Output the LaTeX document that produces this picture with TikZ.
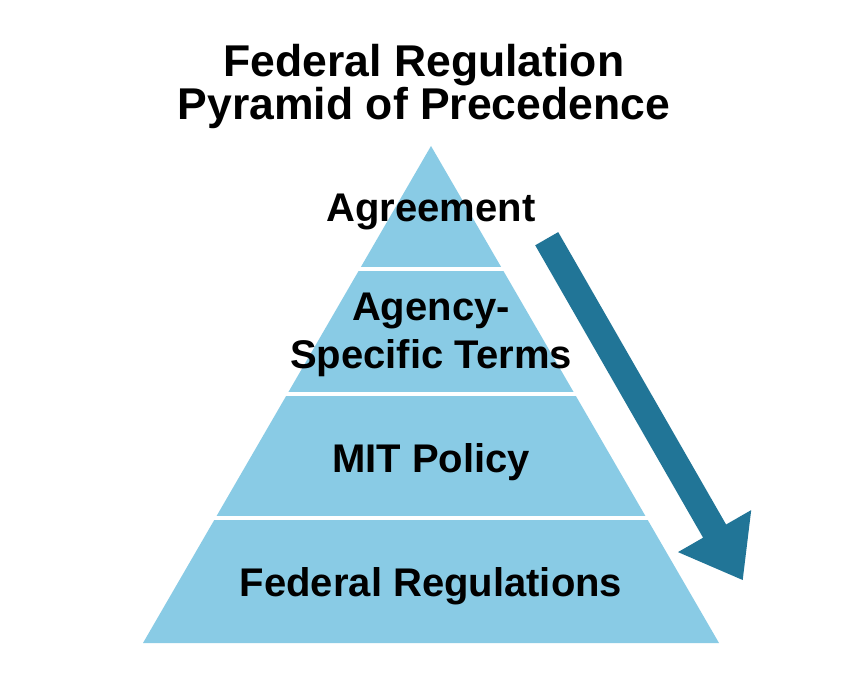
\documentclass[tikz,border=0pt]{standalone}
\usepackage{fontspec}
\setmainfont{Liberation Sans}
\definecolor{pyrblue}{RGB}{137,203,229}
\definecolor{arrowteal}{RGB}{33,117,151}
\begin{document}
\begin{tikzpicture}[x=1pt,y=-1pt,
  titletext/.style={font=\bfseries\fontsize{44.5}{39}\selectfont,align=center,inner sep=0pt,anchor=north},
  leveltext/.style={font=\bfseries\fontsize{40}{48}\selectfont,align=center,inner sep=0pt,text=black},
  gap/.style={draw=white,line width=4pt}]
\useasboundingbox (0,0) rectangle (862,684);
\fill[white] (0,0) rectangle (862,684);
% pyramid
\coordinate (apex) at (431,146);
\coordinate (bl) at (143,643);
\coordinate (br) at (719,643);
\fill[pyrblue] (apex) -- (br) -- (bl) -- cycle;
\draw[gap] (300,269) -- (560,269);
\draw[gap] (200,394) -- (660,394);
\draw[gap] (130,518) -- (730,518);
% arrow
\coordinate (t1) at (558.2,232.1);
\coordinate (t2) at (535.2,245.3);
\coordinate (j1) at (726.1,524.5);
\coordinate (j2) at (703.1,537.7);
\coordinate (b1) at (751.2,510.1);
\coordinate (b2) at (678.0,552.1);
\coordinate (tip) at (742.7,580);
\fill[arrowteal] (t1) -- (j1) -- (b1) -- (tip) -- (b2) -- (j2) -- (t2) -- cycle;
% title
\node[titletext] (title) at (424,44) {Federal Regulation\\Pyramid of Precedence};
% labels
\node[leveltext,anchor=base] (agree) at (431,222) {Agreement};
\node[leveltext,anchor=north] (agency) at (431,293) {Agency-\\Specific Terms};
\node[leveltext,anchor=base] (mit) at (431,472) {MIT Policy};
\node[leveltext,anchor=base] (fed) at (431,596) {Federal Regulations};
\end{tikzpicture}
\end{document}
